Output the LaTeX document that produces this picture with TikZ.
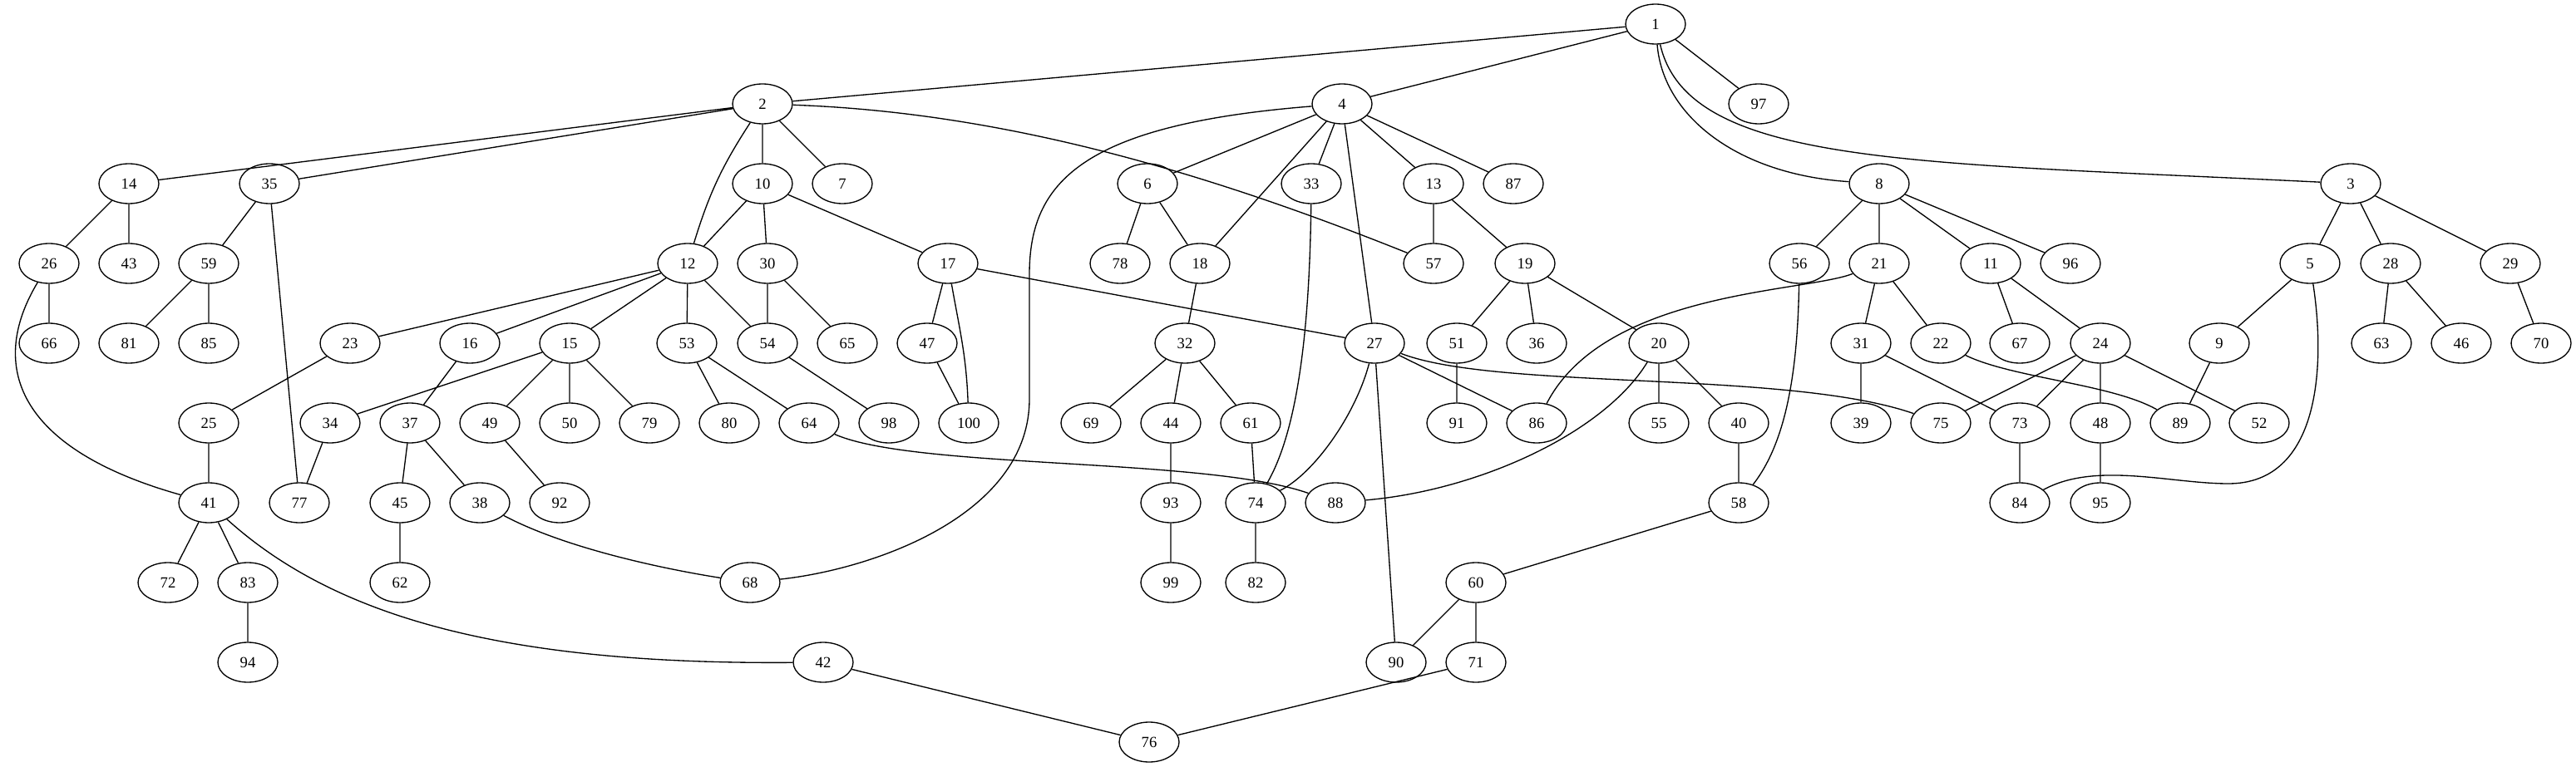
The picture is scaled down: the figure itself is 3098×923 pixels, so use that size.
\documentclass[tikz,border=0pt]{standalone}
\usepackage{fontspec}
\setmainfont{Liberation Serif}
\usetikzlibrary{shapes.geometric}

\begin{document}
\begin{tikzpicture}[
  x=0.75pt, y=0.75pt,
  vtx/.style={ellipse, draw, line width=1pt, minimum width=54pt, minimum height=36pt, inner sep=0pt, font=\fontsize{14pt}{16pt}\selectfont},
  link/.style={line width=1pt}
]
  \useasboundingbox (0,0) rectangle (3098,-923);

  % Rank 1 and 2
  \node[vtx] (n1)  at (1991,-29)  {1};
  \node[vtx] (n2)  at (917,-125)  {2};
  \node[vtx] (n4)  at (1614,-125) {4};
  \node[vtx] (n97) at (2115,-125) {97};

  % Rank 3
  \node[vtx] (n14) at (155,-221)  {14};
  \node[vtx] (n35) at (324,-221)  {35};
  \node[vtx] (n10) at (917,-221)  {10};
  \node[vtx] (n7)  at (1013,-221) {7};
  \node[vtx] (n6)  at (1380,-221) {6};
  \node[vtx] (n33) at (1577,-221) {33};
  \node[vtx] (n13) at (1724,-221) {13};
  \node[vtx] (n87) at (1820,-221) {87};
  \node[vtx] (n8)  at (2260,-221) {8};
  \node[vtx] (n3)  at (2827,-221) {3};

  % Rank 4
  \node[vtx] (n26) at (59,-317)   {26};
  \node[vtx] (n43) at (155,-317)  {43};
  \node[vtx] (n59) at (251,-317)  {59};
  \node[vtx] (n12) at (827,-317)  {12};
  \node[vtx] (n30) at (923,-317)  {30};
  \node[vtx] (n17) at (1140,-317) {17};
  \node[vtx] (n78) at (1347,-317) {78};
  \node[vtx] (n18) at (1443,-317) {18};
  \node[vtx] (n57) at (1724,-317) {57};
  \node[vtx] (n19) at (1834,-317) {19};
  \node[vtx] (n56) at (2164,-317) {56};
  \node[vtx] (n21) at (2260,-317) {21};
  \node[vtx] (n11) at (2394,-317) {11};
  \node[vtx] (n96) at (2490,-317) {96};
  \node[vtx] (n5)  at (2778,-317) {5};
  \node[vtx] (n28) at (2875,-317) {28};
  \node[vtx] (n29) at (3019,-317) {29};

  % Rank 5
  \node[vtx] (n66) at (59,-413)   {66};
  \node[vtx] (n81) at (155,-413)  {81};
  \node[vtx] (n85) at (251,-413)  {85};
  \node[vtx] (n23) at (421,-413)  {23};
  \node[vtx] (n16) at (565,-413)  {16};
  \node[vtx] (n15) at (685,-413)  {15};
  \node[vtx] (n53) at (826,-413)  {53};
  \node[vtx] (n54) at (923,-413)  {54};
  \node[vtx] (n65) at (1019,-413) {65};
  \node[vtx] (n47) at (1115,-413) {47};
  \node[vtx] (n32) at (1425,-413) {32};
  \node[vtx] (n27) at (1653,-413) {27};
  \node[vtx] (n51) at (1752,-413) {51};
  \node[vtx] (n36) at (1848,-413) {36};
  \node[vtx] (n20) at (1995,-413) {20};
  \node[vtx] (n31) at (2238,-413) {31};
  \node[vtx] (n22) at (2334,-413) {22};
  \node[vtx] (n67) at (2429,-413) {67};
  \node[vtx] (n24) at (2526,-413) {24};
  \node[vtx] (n9)  at (2669,-413) {9};
  \node[vtx] (n63) at (2864,-413) {63};
  \node[vtx] (n46) at (2960,-413) {46};
  \node[vtx] (n70) at (3056,-413) {70};

  % Rank 6
  \node[vtx] (n25)  at (251,-509)  {25};
  \node[vtx] (n34)  at (397,-509)  {34};
  \node[vtx] (n37)  at (493,-509)  {37};
  \node[vtx] (n49)  at (589,-509)  {49};
  \node[vtx] (n50)  at (685,-509)  {50};
  \node[vtx] (n79)  at (781,-509)  {79};
  \node[vtx] (n80)  at (877,-509)  {80};
  \node[vtx] (n64)  at (973,-509)  {64};
  \node[vtx] (n98)  at (1069,-509) {98};
  \node[vtx] (n100) at (1165,-509) {100};
  \node[vtx] (n69)  at (1312,-509) {69};
  \node[vtx] (n44)  at (1408,-509) {44};
  \node[vtx] (n61)  at (1504,-509) {61};
  \node[vtx] (n91)  at (1752,-509) {91};
  \node[vtx] (n86)  at (1848,-509) {86};
  \node[vtx] (n55)  at (1995,-509) {55};
  \node[vtx] (n40)  at (2091,-509) {40};
  \node[vtx] (n39)  at (2238,-509) {39};
  \node[vtx] (n75)  at (2334,-509) {75};
  \node[vtx] (n73)  at (2429,-509) {73};
  \node[vtx] (n48)  at (2526,-509) {48};
  \node[vtx] (n89)  at (2622,-509) {89};
  \node[vtx] (n52)  at (2717,-509) {52};

  % Rank 7
  \node[vtx] (n41) at (251,-605)  {41};
  \node[vtx] (n77) at (360,-605)  {77};
  \node[vtx] (n45) at (481,-605)  {45};
  \node[vtx] (n38) at (577,-605)  {38};
  \node[vtx] (n92) at (673,-605)  {92};
  \node[vtx] (n93) at (1408,-605) {93};
  \node[vtx] (n74) at (1510,-605) {74};
  \node[vtx] (n88) at (1606,-605) {88};
  \node[vtx] (n58) at (2091,-605) {58};
  \node[vtx] (n84) at (2429,-605) {84};
  \node[vtx] (n95) at (2526,-605) {95};

  % Rank 8 to 10
  \node[vtx] (n72) at (202,-701)  {72};
  \node[vtx] (n83) at (298,-701)  {83};
  \node[vtx] (n62) at (481,-701)  {62};
  \node[vtx] (n68) at (902,-701)  {68};
  \node[vtx] (n99) at (1408,-701) {99};
  \node[vtx] (n82) at (1510,-701) {82};
  \node[vtx] (n60) at (1775,-701) {60};
  \node[vtx] (n94) at (298,-797)  {94};
  \node[vtx] (n42) at (990,-797)  {42};
  \node[vtx] (n90) at (1679,-797) {90};
  \node[vtx] (n71) at (1775,-797) {71};
  \node[vtx] (n76) at (1382,-893) {76};

  % Straight edges
  \draw[link] (n1) -- (n2)  (n1) -- (n4)  (n1) -- (n97);
  \draw[link] (n2) -- (n14)  (n2) -- (n35)  (n2) -- (n10)  (n2) -- (n7);
  \draw[link] (n4) -- (n6)  (n4) -- (n18)  (n4) -- (n33)  (n4) -- (n27)  (n4) -- (n13)  (n4) -- (n87);
  \draw[link] (n14) -- (n26)  (n14) -- (n43)  (n35) -- (n59)  (n35) -- (n77);
  \draw[link] (n10) -- (n12)  (n10) -- (n30)  (n10) -- (n17);
  \draw[link] (n6) -- (n78)  (n6) -- (n18)  (n13) -- (n57)  (n13) -- (n19);
  \draw[link] (n8) -- (n56)  (n8) -- (n21)  (n8) -- (n11)  (n8) -- (n96);
  \draw[link] (n3) -- (n5)  (n3) -- (n28)  (n3) -- (n29);
  \draw[link] (n26) -- (n66)  (n59) -- (n81)  (n59) -- (n85);
  \draw[link] (n12) -- (n23)  (n12) -- (n16)  (n12) -- (n15)  (n12) -- (n53)  (n12) -- (n54);
  \draw[link] (n30) -- (n54)  (n30) -- (n65)  (n17) -- (n27)  (n17) -- (n47);
  \draw[link] (n18) -- (n32)  (n19) -- (n51)  (n19) -- (n36)  (n19) -- (n20);
  \draw[link] (n21) -- (n31)  (n21) -- (n22)  (n11) -- (n67)  (n11) -- (n24);
  \draw[link] (n5) -- (n9)  (n28) -- (n63)  (n28) -- (n46)  (n29) -- (n70);
  \draw[link] (n23) -- (n25)  (n16) -- (n37)  (n15) -- (n34)  (n15) -- (n49)  (n15) -- (n50)  (n15) -- (n79);
  \draw[link] (n53) -- (n80)  (n53) -- (n64)  (n54) -- (n98)  (n47) -- (n100);
  \draw[link] (n32) -- (n69)  (n32) -- (n44)  (n32) -- (n61);
  \draw[link] (n27) -- (n86)  (n27) -- (n90)  (n51) -- (n91)  (n20) -- (n55)  (n20) -- (n40);
  \draw[link] (n31) -- (n39)  (n31) -- (n73);
  \draw[link] (n24) -- (n75)  (n24) -- (n73)  (n24) -- (n48)  (n24) -- (n52)  (n9) -- (n89);
  \draw[link] (n25) -- (n41)  (n34) -- (n77)  (n37) -- (n45)  (n37) -- (n38)  (n49) -- (n92);
  \draw[link] (n44) -- (n93)  (n61) -- (n74)  (n40) -- (n58)  (n73) -- (n84)  (n48) -- (n95);
  \draw[link] (n41) -- (n72)  (n41) -- (n83)  (n45) -- (n62)  (n93) -- (n99)  (n74) -- (n82)  (n58) -- (n60);
  \draw[link] (n83) -- (n94)  (n60) -- (n90)  (n60) -- (n71);
  \draw[link] (n42) -- (n76)  (n71) -- (n76);

  % Curved edges
  \draw[link] (n1) .. controls (2000,-140) and (2090,-210) .. (n8);
  \draw[link] (n1) .. controls (2030,-200) and (2300,-195) .. (n3);
  \draw[link] (n2) to[bend right=8] (n12);
  \draw[link] (n2) .. controls (1200,-135) and (1440,-203) .. (n57);
  \draw[link] (n4) .. controls (1300,-150) and (1238,-220) .. (1238,-330)
    -- (1238,-480) .. controls (1238,-620) and (1050,-685) .. (n68);
  \draw[link] (n33) .. controls (1575,-400) and (1560,-520) .. (n74);
  \draw[link] (n27) .. controls (1630,-500) and (1580,-570) .. (n74);
  \draw[link] (n17) to[out=-80,in=92] (n100);
  \draw[link] (n21) .. controls (2170,-352) and (1930,-350) .. (n86);
  \draw[link] (n27) .. controls (1800,-470) and (2150,-445) .. (n75);
  \draw[link] (n20) .. controls (1930,-520) and (1780,-590) .. (n88);
  \draw[link] (n56) .. controls (2162,-440) and (2150,-530) .. (n58);
  \draw[link] (n22) .. controls (2420,-455) and (2540,-462) .. (n89);
  \draw[link] (n5) .. controls (2797,-440) and (2790,-582) .. (2680,-582)
    .. controls (2610,-582) and (2520,-555) .. (n84);
  \draw[link] (n26) .. controls (-15,-440) and (20,-540) .. (n41);
  \draw[link] (n41) .. controls (400,-740) and (600,-800) .. (n42);
  \draw[link] (n38) .. controls (680,-660) and (800,-685) .. (n68);
  \draw[link] (n64) .. controls (1100,-565) and (1450,-550) .. (n88);

\end{tikzpicture}
\end{document}
